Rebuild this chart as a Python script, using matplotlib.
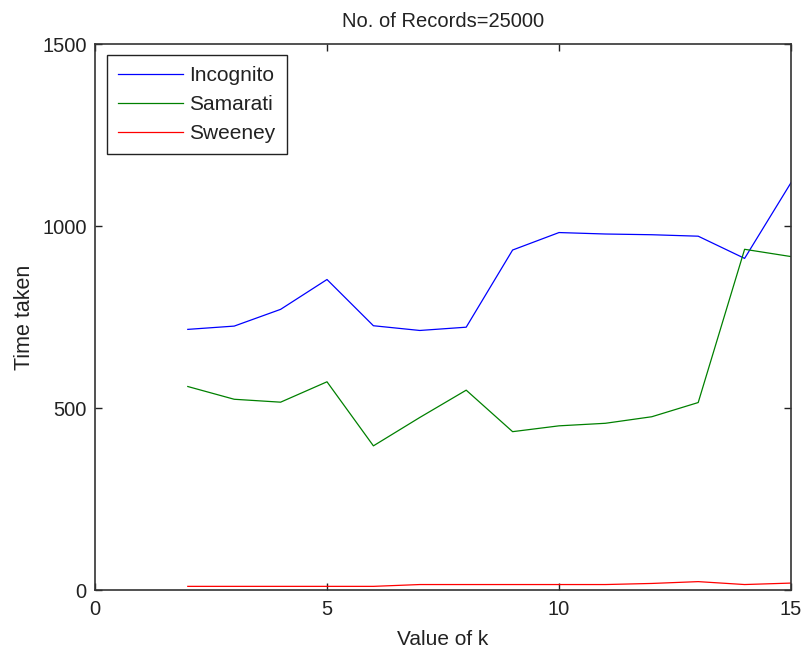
import matplotlib.pyplot as plt

plt.rcParams['font.family'] = ['Liberation Sans', 'DejaVu Sans']

k = [2, 3, 4, 5, 6, 7, 8, 9, 10, 11, 12, 13, 14, 15]
incognito = [716, 725, 771, 853, 726, 713, 722, 934, 982, 978, 976, 972, 911, 1119]
samarati = [559, 524, 516, 572, 396, 474, 549, 435, 451, 458, 476, 515, 936, 916]
sweeney = [10, 10, 10, 10, 10, 15, 15, 15, 15, 15, 18, 23, 15, 19]

fig = plt.figure(figsize=(8.04, 6.55), dpi=100)
ax = fig.add_axes([95 / 804, 65 / 655, 696 / 804, 546 / 655])

ax.plot(k, incognito, color='#0000ff', lw=0.9, label='Incognito')
ax.plot(k, samarati, color='#008000', lw=0.9, label='Samarati')
ax.plot(k, sweeney, color='#ff0000', lw=0.9, label='Sweeney')

ax.set_xlim(0, 15)
ax.set_ylim(0, 1500)
ax.set_xticks([0, 5, 10, 15])
ax.set_yticks([0, 500, 1000, 1500])
ax.tick_params(direction='in', top=True, right=True, length=5, width=1,
               labelsize=14.5, colors='#222222')
ax.tick_params(axis='x', pad=7)
ax.tick_params(axis='y', pad=6)
for s in ax.spines.values():
    s.set_linewidth(1.2)
    s.set_color('#333333')

ax.set_title('No. of Records=25000', fontsize=14.5, pad=12, color='#222222')
ax.set_xlabel('Value of k', fontsize=15, labelpad=8, color='#222222')
ax.set_ylabel('Time taken', fontsize=15.5, labelpad=5, color='#222222')

leg = ax.legend(loc='upper left', bbox_to_anchor=(0.0172, 0.98), borderaxespad=0,
                fontsize=15, fancybox=False, edgecolor='#222222', framealpha=1,
                handlelength=3.1, handletextpad=0.3, borderpad=0.55,
                labelspacing=0.47)
leg.get_frame().set_linewidth(1.0)
for t in leg.get_texts():
    t.set_color('#222222')

fig.savefig('out.png', dpi=100)
